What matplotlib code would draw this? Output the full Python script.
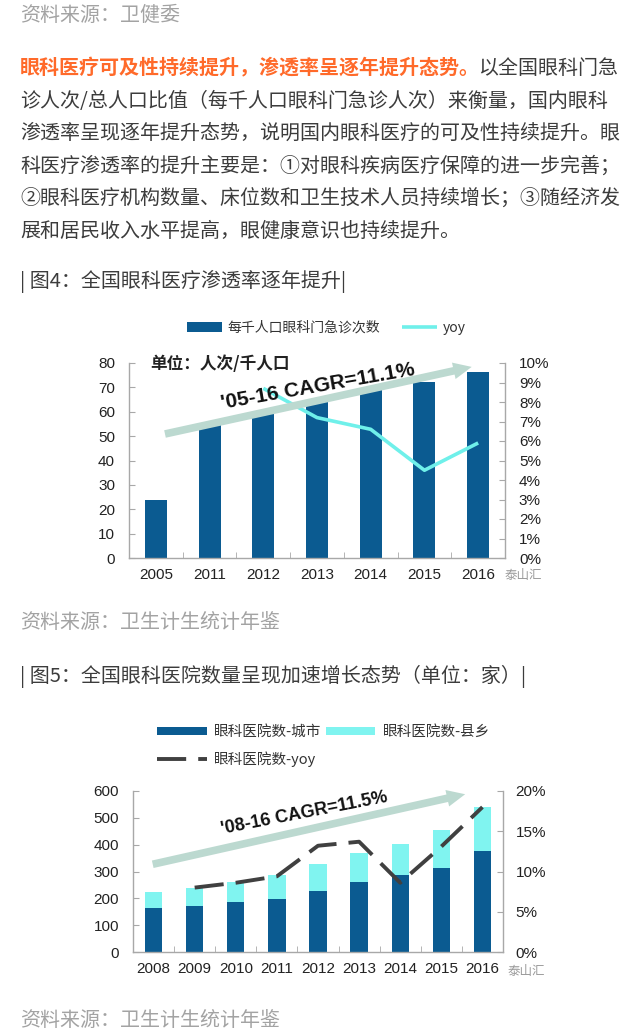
import matplotlib
matplotlib.use('Agg')
import matplotlib.pyplot as plt
from matplotlib.ticker import FuncFormatter
import numpy as np

W, H = 640, 1033
CJK = ['Noto Sans CJK SC', 'DejaVu Sans']
NUM = ['Liberation Sans', 'Noto Sans CJK SC', 'DejaVu Sans']

# ---------------- data ----------------
years1 = ['2005', '2011', '2012', '2013', '2014', '2015', '2016']
visits = [24.0, 55.4, 60.2, 64.7, 68.8, 72.1, 76.2]
yoy1_years = ['2012', '2013', '2014', '2015', '2016']
yoy1 = [0.087, 0.072, 0.066, 0.045, 0.059]

years2 = ['2008', '2009', '2010', '2011', '2012', '2013', '2014', '2015', '2016']
city = [163, 171, 186, 199, 226, 262, 287, 314, 377]
county = [61, 69, 75, 88, 101, 108, 115, 140, 163]
yoy2_years = ['2009', '2010', '2011', '2012', '2013', '2014', '2015', '2016']
yoy2 = [0.080, 0.086, 0.094, 0.132, 0.137, 0.086, 0.131, 0.180]

left_ticks1 = list(range(0, 81, 10))
right_ticks1 = [i / 100 for i in range(0, 11)]
left_ticks2 = list(range(0, 601, 100))
right_ticks2 = [0, 0.05, 0.10, 0.15, 0.20]

cagr1 = "'05-16 CAGR=11.1%"
cagr2 = "'08-16 CAGR=11.5%"

src1 = '资料来源：卫健委'
para_bold = '眼科医疗可及性持续提升，渗透率呈逐年提升态势。'
para_lines = [
    '以全国眼科门急',
    '诊人次/总人口比值（每千人口眼科门急诊人次）来衡量，国内眼科',
    '渗透率呈现逐年提升态势，说明国内眼科医疗的可及性持续提升。眼',
    '科医疗渗透率的提升主要是：①对眼科疾病医疗保障的进一步完善；',
    '②眼科医疗机构数量、床位数和卫生技术人员持续增长；③随经济发',
    '展和居民收入水平提高，眼健康意识也持续提升。',
]
cap4 = '| 图4：全国眼科医疗渗透率逐年提升|'
src2 = '资料来源：卫生计生统计年鉴'
cap5 = '| 图5：全国眼科医院数量呈现加速增长态势（单位：家）|'
src3 = '资料来源：卫生计生统计年鉴'

# ---------------- style ----------------
DARK = '#0b5b91'
CYAN1 = '#6ff0ea'
CYAN2 = '#80f4f0'
ARROW = '#bcd9d0'
GREY = '#a8a8a8'
TXT = '#3c3c3c'
SRC = '#a3a3a3'
ORANGE = '#ff6a2a'
NUMC = '#222222'

fig = plt.figure(figsize=(W / 100, H / 100), dpi=100)
fig.patch.set_facecolor('white')


def fy(y):
    return 1 - y / H


def rect(l, t, r, b):
    return [l / W, 1 - b / H, (r - l) / W, (b - t) / H]


def ftext(x, y, s, **kw):
    kw.setdefault('family', CJK)
    kw.setdefault('va', 'center')
    return fig.text(x / W, fy(y), s, **kw)


FS = 14.4
ftext(20, 15, src1, fontsize=FS, color=SRC)
ftext(20, 68, para_bold, fontsize=FS, color=ORANGE, weight='bold')
ftext(478, 68, para_lines[0], fontsize=FS, color=TXT)
for i, line in enumerate(para_lines[1:]):
    ftext(20, 101 + i * 32.5, line, fontsize=FS, color=TXT)
ftext(20, 281, cap4, fontsize=FS, color=TXT)
ftext(20, 623, src2, fontsize=FS, color=SRC)
ftext(20, 676, cap5, fontsize=FS, color=TXT)
ftext(20, 1021, src3, fontsize=FS, color=SRC)

TICKFS = 11


def style_axes(ax, axr, n):
    for s in ['top', 'right']:
        ax.spines[s].set_visible(False)
    for s in ['top', 'left', 'bottom']:
        axr.spines[s].set_visible(False)
    for sp in [ax.spines['left'], ax.spines['bottom'], axr.spines['right']]:
        sp.set_color(GREY)
        sp.set_linewidth(1.0)
    ax.set_xlim(-0.5, n - 0.5)
    ax.set_xticks(np.arange(-0.5, n), minor=True)
    ax.tick_params(axis='x', which='major', length=0, pad=7,
                   labelsize=TICKFS, labelcolor=NUMC)
    ax.tick_params(axis='x', which='minor', length=4, direction='in', color=GREY)
    ax.tick_params(axis='y', direction='in', length=4, color=GREY, pad=10,
                   labelsize=TICKFS, labelcolor=NUMC)
    for lab in ax.get_xticklabels() + ax.get_yticklabels() + axr.get_yticklabels():
        lab.set_family(NUM)


pct = FuncFormatter(lambda v, p: f'{v * 100:.0f}%')

# ---------------- chart 1 ----------------
ax1 = fig.add_axes(rect(129, 363, 505, 558))
ax1r = ax1.twinx()
x1 = np.arange(len(years1))
b1 = ax1.bar(x1, visits, width=0.41, color=DARK, zorder=2,
             label='每千人口眼科门急诊次数')
ax1.set_ylim(0, 80)
ax1.set_yticks(left_ticks1)
ax1.set_xticks(x1, years1)
yx1 = [years1.index(y) for y in yoy1_years]
l1, = ax1r.plot(yx1, yoy1, color=CYAN1, lw=2.6, zorder=3, label='yoy',
                solid_capstyle='butt')
ax1r.set_ylim(0, 0.10)
ax1r.set_yticks(right_ticks1)
ax1r.yaxis.set_major_formatter(pct)
ax1r.tick_params(axis='y', direction='in', length=4, color=GREY, pad=10,
                 labelsize=TICKFS, labelcolor=NUMC)
style_axes(ax1, ax1r, len(years1))

ax1r.annotate('', xy=(5.88, 0.098), xytext=(0.17, 0.0636),
              xycoords='data',
              arrowprops=dict(arrowstyle='simple,tail_width=0.5,head_width=1.1,head_length=1.2',
                              mutation_scale=11, color=ARROW, lw=0, shrinkA=0, shrinkB=0),
              zorder=4)
ftext(318, 387, cagr1, family=NUM, fontsize=15, weight='bold', color='#111111',
      ha='center', rotation=10, zorder=6)
ftext(150, 364, '单位：人次/千人口', fontsize=12, weight='bold', color='#222222')

fig.legend(handles=[b1, l1], labels=['每千人口眼科门急诊次数', 'yoy'],
           loc='center left', bbox_to_anchor=(187 / W, fy(328)), ncol=2,
           frameon=False, prop={'family': CJK, 'size': 10},
           handlelength=2.5, handleheight=0.7, handletextpad=0.4,
           columnspacing=1.6, borderpad=0, borderaxespad=0, labelcolor='#333333')

ftext(505, 576, '泰山汇', fontsize=9, color='#9a9a9a')

# ---------------- chart 2 ----------------
ax2 = fig.add_axes(rect(133, 791, 503, 952))
ax2r = ax2.twinx()
x2 = np.arange(len(years2))
bc = ax2.bar(x2, city, width=0.42, color=DARK, zorder=2, label='眼科医院数-城市')
bq = ax2.bar(x2, county, bottom=city, width=0.42, color=CYAN2, zorder=2,
             label='眼科医院数-县乡')
ax2.set_ylim(0, 600)
ax2.set_yticks(left_ticks2)
ax2.set_xticks(x2, years2)
yx2 = [years2.index(y) for y in yoy2_years]
l2, = ax2r.plot(yx2, yoy2, color='#404040', lw=2.8, zorder=3,
                dashes=(7.5, 3.1), label='眼科医院数-yoy')
ax2r.set_ylim(0, 0.20)
ax2r.set_yticks(right_ticks2)
ax2r.yaxis.set_major_formatter(pct)
ax2r.tick_params(axis='y', direction='in', length=4, color=GREY, pad=9,
                 labelsize=TICKFS, labelcolor=NUMC)
style_axes(ax2, ax2r, len(years2))

ax2.annotate('', xy=(7.58, 588), xytext=(-0.02, 327), xycoords='data',
             arrowprops=dict(arrowstyle='simple,tail_width=0.5,head_width=1.1,head_length=1.2',
                             mutation_scale=11, color=ARROW, lw=0, shrinkA=0, shrinkB=0),
             zorder=1)
ftext(304, 813, cagr2, family=NUM, fontsize=13, weight='bold', color='#111111',
      ha='center', rotation=11, zorder=6)

fig.legend(handles=[bc, l2, bq],
           labels=['眼科医院数-城市', '眼科医院数-yoy', '眼科医院数-县乡'],
           loc='upper left', bbox_to_anchor=(157 / W, fy(725)), ncol=2,
           frameon=False, prop={'family': CJK, 'size': 10.5},
           handlelength=3.4, handleheight=0.5, handletextpad=0.5,
           columnspacing=0.3, labelspacing=0.85, borderpad=0, borderaxespad=0,
           labelcolor='#333333')

ftext(508, 972, '泰山汇', fontsize=9, color='#9a9a9a')

fig.savefig('out.png', dpi=100, facecolor='white')
